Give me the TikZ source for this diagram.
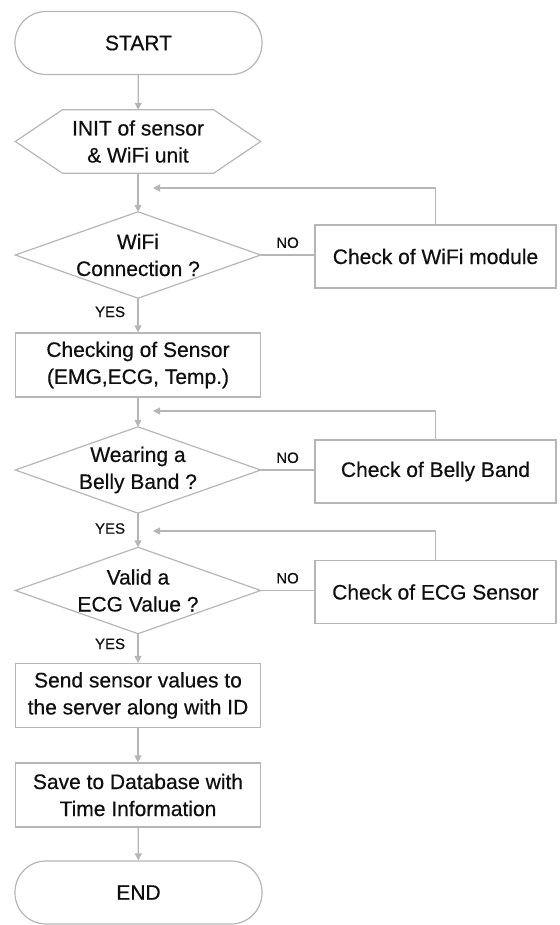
\documentclass[tikz,border=0pt]{standalone}
\usepackage{fontspec}
\setmainfont{Liberation Sans}
\newfontfamily\flowfont[FakeBold=0.5]{Liberation Sans}
\usetikzlibrary{arrows.meta,positioning}
\definecolor{flowLine}{RGB}{182,182,182}
\definecolor{flowText}{RGB}{15,15,15}

\begin{document}
\begin{tikzpicture}[x=1pt, y=1pt, font=\flowfont\fontsize{21}{27}\selectfont, text=flowText,
  outline/.style={draw=flowLine, line width=1.2pt},
  terminal/.style={outline, rounded corners=31pt, minimum width=247pt, minimum height=63pt},
  process/.style={outline, minimum width=245pt, minimum height=64pt, align=center, inner sep=0pt},
  prep/.style={minimum width=245pt, minimum height=63pt, align=center,
    append after command={\pgfextra{\draw[outline] (\tikzlastnode.west)
      -- ([xshift=47pt]\tikzlastnode.north west) -- ([xshift=-47pt]\tikzlastnode.north east)
      -- (\tikzlastnode.east) -- ([xshift=-47pt]\tikzlastnode.south east)
      -- ([xshift=47pt]\tikzlastnode.south west) -- cycle;}}},
  decision/.style={minimum width=245pt, minimum height=86pt, align=center,
    append after command={\pgfextra{\draw[outline] (\tikzlastnode.north)
      -- (\tikzlastnode.east) -- (\tikzlastnode.south) -- (\tikzlastnode.west) -- cycle;}}},
  lbl/.style={font=\flowfont\fontsize{15}{18}\selectfont},
  flow/.style={outline, -{Triangle[length=7pt, width=7pt]}}]

\useasboundingbox (0,0) rectangle (559,-925);

% main column
\node[terminal] (start) at (138.5,-43)   {START};
\node[prep] (init) at (138,-141.5)       {INIT of sensor\\\& WiFi unit};
\node[decision] (wifi) at (138,-255)     {WiFi\\Connection ?};
\node[process] (sensor) at (138,-365)    {Checking of Sensor\\(EMG,ECG, Temp.)};
\node[decision] (belly) at (138,-470)    {Wearing a\\Belly Band ?};
\node[decision] (ecg) at (138,-590.5)    {Valid a\\ECG Value ?};
\node[process] (send) at (138,-695.5)    {Send sensor values to\\the server along with ID};
\node[process] (save) at (138,-795)      {Save to Database with\\Time Information};
\node[terminal] (finish) at (138.5,-892.5) {END};

% error handling
\begin{scope}[process/.append style={minimum width=241pt, minimum height=63pt}]
\node[process] (chkwifi) at (435.5,-256.5)  {Check of WiFi module};
\node[process] (chkbelly) at (435.5,-471.5) {Check of Belly Band};
\node[process] (chkecg) at (435.5,-592)     {Check of ECG Sensor};
\end{scope}

\coordinate (fbwifi) at (153,-188);
\coordinate (fbbelly) at (153,-411);
\coordinate (fbecg) at (153,-531);

\draw[flow] (start) -- (init);
\draw[flow] (init) -- (wifi);
\draw[flow] (wifi) -- node[lbl, pos=0.4, left=9pt] {YES} (sensor);
\draw[flow] (sensor) -- (belly);
\draw[flow] (belly) -- node[lbl, pos=0.45, left=9pt] {YES} (ecg);
\draw[flow] (ecg) -- node[lbl, pos=0.35, left=9pt] {YES} (send);
\draw[flow] (send) -- (save);
\draw[flow] (save) -- (finish);

\draw[outline] (wifi.east) -- node[lbl, above=3pt] {NO} (wifi.east -| chkwifi.west);
\draw[outline] (belly.east) -- node[lbl, above=3pt] {NO} (belly.east -| chkbelly.west);
\draw[outline] (ecg.east) -- node[lbl, above=3pt] {NO} (ecg.east -| chkecg.west);

\draw[flow] (chkwifi.north) |- (fbwifi);
\draw[flow] (chkbelly.north) |- (fbbelly);
\draw[flow] (chkecg.north) |- (fbecg);
\end{tikzpicture}
\end{document}
